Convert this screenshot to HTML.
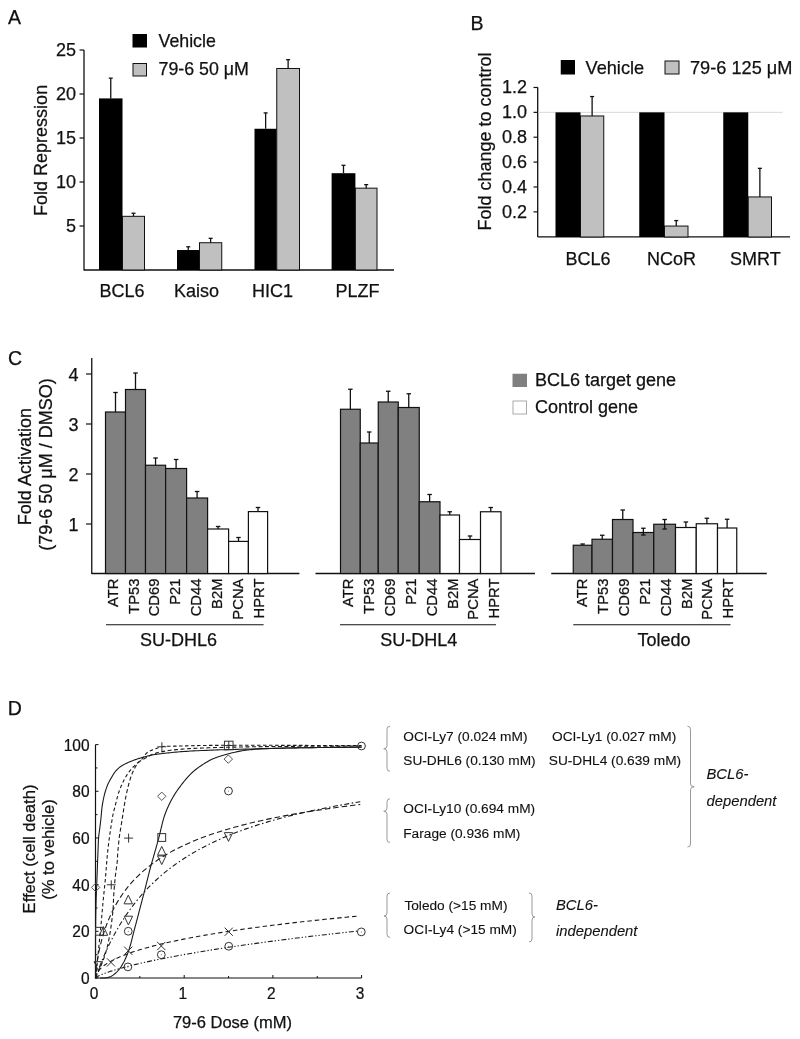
<!DOCTYPE html>
<html><head><meta charset="utf-8"><style>
html,body{margin:0;padding:0;background:#fff;}
svg{display:block;will-change:transform;font-family:"Liberation Sans", sans-serif;}
text{stroke:#111;stroke-width:0.25px;}
</style></head><body>
<svg width="800" height="1039" viewBox="0 0 800 1039">
<rect x="0" y="0" width="800" height="1039" fill="#fff"/>
<text x="8" y="23.75" text-anchor="start" style="font-size:19.5px;" fill="#111">A</text>
<line x1="84" y1="50" x2="84" y2="270.5" stroke="#111" stroke-width="1.3"/>
<line x1="84" y1="270" x2="394" y2="270" stroke="#111" stroke-width="1.3"/>
<line x1="79.5" y1="226.0" x2="84" y2="226.0" stroke="#111" stroke-width="1.2"/>
<text x="76" y="232.0" text-anchor="end" style="font-size:18px;" fill="#111">5</text>
<line x1="79.5" y1="182.0" x2="84" y2="182.0" stroke="#111" stroke-width="1.2"/>
<text x="76" y="188.0" text-anchor="end" style="font-size:18px;" fill="#111">10</text>
<line x1="79.5" y1="138.0" x2="84" y2="138.0" stroke="#111" stroke-width="1.2"/>
<text x="76" y="144.0" text-anchor="end" style="font-size:18px;" fill="#111">15</text>
<line x1="79.5" y1="94.0" x2="84" y2="94.0" stroke="#111" stroke-width="1.2"/>
<text x="76" y="100.0" text-anchor="end" style="font-size:18px;" fill="#111">20</text>
<line x1="79.5" y1="49.99999999999997" x2="84" y2="49.99999999999997" stroke="#111" stroke-width="1.2"/>
<text x="76" y="55.99999999999997" text-anchor="end" style="font-size:18px;" fill="#111">25</text>
<text x="46.8" y="150.4" text-anchor="middle" style="font-size:18px;" fill="#111" transform="rotate(-90 46.8 150.4)">Fold Repression</text>
<rect x="99" y="98.39999999999998" width="23.5" height="171.60000000000002" fill="#000"/>
<line x1="110.75" y1="98.39999999999998" x2="110.75" y2="78.15999999999997" stroke="#111" stroke-width="1.3"/>
<line x1="108.75" y1="78.15999999999997" x2="112.75" y2="78.15999999999997" stroke="#111" stroke-width="1.3"/>
<rect x="122.5" y="216.32" width="22.0" height="53.68000000000001" fill="#c0c0c0" stroke="#111" stroke-width="1"/>
<line x1="133.5" y1="216.32" x2="133.5" y2="213.24" stroke="#111" stroke-width="1.3"/>
<line x1="131.5" y1="213.24" x2="135.5" y2="213.24" stroke="#111" stroke-width="1.3"/>
<rect x="177" y="250.024" width="22.5" height="19.976" fill="#000"/>
<line x1="188.25" y1="250.024" x2="188.25" y2="246.768" stroke="#111" stroke-width="1.3"/>
<line x1="186.25" y1="246.768" x2="190.25" y2="246.768" stroke="#111" stroke-width="1.3"/>
<rect x="199.5" y="242.72" width="22.25" height="27.28" fill="#c0c0c0" stroke="#111" stroke-width="1"/>
<line x1="210.625" y1="242.72" x2="210.625" y2="238.32" stroke="#111" stroke-width="1.3"/>
<line x1="208.625" y1="238.32" x2="212.625" y2="238.32" stroke="#111" stroke-width="1.3"/>
<rect x="254.5" y="128.76" width="22.25" height="141.24" fill="#000"/>
<line x1="265.625" y1="128.76" x2="265.625" y2="112.91999999999999" stroke="#111" stroke-width="1.3"/>
<line x1="263.625" y1="112.91999999999999" x2="267.625" y2="112.91999999999999" stroke="#111" stroke-width="1.3"/>
<rect x="276.75" y="68.47999999999999" width="22.75" height="201.52" fill="#c0c0c0" stroke="#111" stroke-width="1"/>
<line x1="288.125" y1="68.47999999999999" x2="288.125" y2="59.68000000000001" stroke="#111" stroke-width="1.3"/>
<line x1="286.125" y1="59.68000000000001" x2="290.125" y2="59.68000000000001" stroke="#111" stroke-width="1.3"/>
<rect x="331.6" y="173.2" width="23.799999999999955" height="96.80000000000001" fill="#000"/>
<line x1="343.5" y1="173.2" x2="343.5" y2="165.27999999999997" stroke="#111" stroke-width="1.3"/>
<line x1="341.5" y1="165.27999999999997" x2="345.5" y2="165.27999999999997" stroke="#111" stroke-width="1.3"/>
<rect x="355.4" y="188.15999999999997" width="21.600000000000023" height="81.84000000000003" fill="#c0c0c0" stroke="#111" stroke-width="1"/>
<line x1="366.2" y1="188.15999999999997" x2="366.2" y2="184.64" stroke="#111" stroke-width="1.3"/>
<line x1="364.2" y1="184.64" x2="368.2" y2="184.64" stroke="#111" stroke-width="1.3"/>
<text x="122" y="297" text-anchor="middle" style="font-size:18px;" fill="#111">BCL6</text>
<text x="196.6" y="297" text-anchor="middle" style="font-size:18px;" fill="#111">Kaiso</text>
<text x="272.4" y="297" text-anchor="middle" style="font-size:18px;" fill="#111">HIC1</text>
<text x="357.5" y="297" text-anchor="middle" style="font-size:18px;" fill="#111">PLZF</text>
<rect x="132.5" y="34" width="14.5" height="13.5" fill="#000"/>
<rect x="133" y="63.5" width="13.5" height="12.5" fill="#c0c0c0" stroke="#111" stroke-width="1"/>
<text x="158.5" y="46.5" text-anchor="start" style="font-size:17.8px;" fill="#111">Vehicle</text>
<text x="158.5" y="74.6" text-anchor="start" style="font-size:17.8px;" fill="#111">79-6 50 μM</text>
<text x="470.5" y="30" text-anchor="start" style="font-size:19.5px;" fill="#111">B</text>
<line x1="537.7" y1="87.2" x2="537.7" y2="237" stroke="#111" stroke-width="1.3"/>
<line x1="537.7" y1="236.9" x2="790" y2="236.9" stroke="#111" stroke-width="1.3"/>
<line x1="538.5" y1="112.35" x2="782.5" y2="112.35" stroke="#d8d8d8" stroke-width="1"/>
<line x1="533.5" y1="211.87" x2="537.7" y2="211.87" stroke="#111" stroke-width="1.2"/>
<text x="527" y="217.87" text-anchor="end" style="font-size:18px;" fill="#111">0.2</text>
<line x1="533.5" y1="186.99" x2="537.7" y2="186.99" stroke="#111" stroke-width="1.2"/>
<text x="527" y="192.99" text-anchor="end" style="font-size:18px;" fill="#111">0.4</text>
<line x1="533.5" y1="162.11" x2="537.7" y2="162.11" stroke="#111" stroke-width="1.2"/>
<text x="527" y="168.11" text-anchor="end" style="font-size:18px;" fill="#111">0.6</text>
<line x1="533.5" y1="137.23" x2="537.7" y2="137.23" stroke="#111" stroke-width="1.2"/>
<text x="527" y="143.23" text-anchor="end" style="font-size:18px;" fill="#111">0.8</text>
<line x1="533.5" y1="112.35" x2="537.7" y2="112.35" stroke="#111" stroke-width="1.2"/>
<text x="527" y="118.35" text-anchor="end" style="font-size:18px;" fill="#111">1.0</text>
<line x1="533.5" y1="87.47" x2="537.7" y2="87.47" stroke="#111" stroke-width="1.2"/>
<text x="527" y="93.47" text-anchor="end" style="font-size:18px;" fill="#111">1.2</text>
<text x="490.8" y="141.45" text-anchor="middle" style="font-size:18px;" fill="#111" transform="rotate(-90 490.8 141.45)">Fold change to control</text>
<rect x="555.5" y="112.35" width="25.0" height="124.65" fill="#000"/>
<rect x="580.5" y="115.9576" width="23.25" height="121.0424" fill="#c0c0c0" stroke="#111" stroke-width="1"/>
<line x1="592.125" y1="115.9576" x2="592.125" y2="96.5512" stroke="#111" stroke-width="1.3"/>
<line x1="590.125" y1="96.5512" x2="594.125" y2="96.5512" stroke="#111" stroke-width="1.3"/>
<rect x="639.25" y="112.35" width="25.25" height="124.65" fill="#000"/>
<rect x="664.5" y="226.0516" width="23.5" height="10.948399999999992" fill="#c0c0c0" stroke="#111" stroke-width="1"/>
<line x1="676.25" y1="226.0516" x2="676.25" y2="220.578" stroke="#111" stroke-width="1.3"/>
<line x1="674.25" y1="220.578" x2="678.25" y2="220.578" stroke="#111" stroke-width="1.3"/>
<rect x="723.25" y="112.35" width="25.0" height="124.65" fill="#000"/>
<rect x="748.25" y="196.942" width="23.25" height="40.05799999999999" fill="#c0c0c0" stroke="#111" stroke-width="1"/>
<line x1="759.875" y1="196.942" x2="759.875" y2="168.32999999999998" stroke="#111" stroke-width="1.3"/>
<line x1="757.875" y1="168.32999999999998" x2="761.875" y2="168.32999999999998" stroke="#111" stroke-width="1.3"/>
<text x="588.1" y="265" text-anchor="middle" style="font-size:18px;" fill="#111">BCL6</text>
<text x="671.45" y="265" text-anchor="middle" style="font-size:18px;" fill="#111">NCoR</text>
<text x="755.45" y="265" text-anchor="middle" style="font-size:18px;" fill="#111">SMRT</text>
<rect x="560.75" y="60" width="14.25" height="14.5" fill="#000"/>
<rect x="665" y="61" width="14" height="13" fill="#c0c0c0" stroke="#111" stroke-width="1"/>
<text x="585.5" y="73.75" text-anchor="start" style="font-size:18.2px;" fill="#111">Vehicle</text>
<text x="690" y="73.75" text-anchor="start" style="font-size:18.2px;" fill="#111">79-6 125 μM</text>
<text x="8" y="364.5" text-anchor="start" style="font-size:19.5px;" fill="#111">C</text>
<line x1="91.75" y1="358" x2="91.75" y2="574" stroke="#111" stroke-width="1.3"/>
<line x1="86" y1="524" x2="91.75" y2="524" stroke="#111" stroke-width="1.2"/>
<text x="78.5" y="530.5" text-anchor="end" style="font-size:18px;" fill="#111">1</text>
<line x1="86" y1="474" x2="91.75" y2="474" stroke="#111" stroke-width="1.2"/>
<text x="78.5" y="480.5" text-anchor="end" style="font-size:18px;" fill="#111">2</text>
<line x1="86" y1="424" x2="91.75" y2="424" stroke="#111" stroke-width="1.2"/>
<text x="78.5" y="430.5" text-anchor="end" style="font-size:18px;" fill="#111">3</text>
<line x1="86" y1="374" x2="91.75" y2="374" stroke="#111" stroke-width="1.2"/>
<text x="78.5" y="380.5" text-anchor="end" style="font-size:18px;" fill="#111">4</text>
<text x="31" y="466.6" text-anchor="middle" style="font-size:18px;" fill="#111" transform="rotate(-90 31 466.6)">Fold Activation</text>
<text x="51.5" y="464.5" text-anchor="middle" style="font-size:18px;" fill="#111" transform="rotate(-90 51.5 464.5)">(79-6 50 μM / DMSO)</text>
<line x1="91.75" y1="573.5" x2="299.4" y2="573.5" stroke="#111" stroke-width="1.3"/>
<rect x="105.5" y="412.0" width="20.0" height="161.5" fill="#808080" stroke="#111" stroke-width="1.2"/>
<line x1="115.5" y1="412.0" x2="115.5" y2="392.5" stroke="#111" stroke-width="1.3"/>
<line x1="113.25" y1="392.5" x2="117.75" y2="392.5" stroke="#111" stroke-width="1.3"/>
<text x="117.7" y="578.5" text-anchor="end" style="font-size:14.8px;" fill="#111" transform="rotate(-90 117.7 578.5)">ATR</text>
<rect x="125.5" y="389.5" width="20.0" height="184.0" fill="#808080" stroke="#111" stroke-width="1.2"/>
<line x1="135.5" y1="389.5" x2="135.5" y2="373.0" stroke="#111" stroke-width="1.3"/>
<line x1="133.25" y1="373.0" x2="137.75" y2="373.0" stroke="#111" stroke-width="1.3"/>
<text x="138.58" y="578.5" text-anchor="end" style="font-size:14.8px;" fill="#111" transform="rotate(-90 138.58 578.5)">TP53</text>
<rect x="145.5" y="465.25" width="20.099999999999994" height="108.25" fill="#808080" stroke="#111" stroke-width="1.2"/>
<line x1="155.55" y1="465.25" x2="155.55" y2="458.0" stroke="#111" stroke-width="1.3"/>
<line x1="153.3" y1="458.0" x2="157.8" y2="458.0" stroke="#111" stroke-width="1.3"/>
<text x="159.46" y="578.5" text-anchor="end" style="font-size:14.8px;" fill="#111" transform="rotate(-90 159.46 578.5)">CD69</text>
<rect x="165.6" y="468.5" width="21.0" height="105.0" fill="#808080" stroke="#111" stroke-width="1.2"/>
<line x1="176.1" y1="468.5" x2="176.1" y2="459.5" stroke="#111" stroke-width="1.3"/>
<line x1="173.85" y1="459.5" x2="178.35" y2="459.5" stroke="#111" stroke-width="1.3"/>
<text x="180.34" y="578.5" text-anchor="end" style="font-size:14.8px;" fill="#111" transform="rotate(-90 180.34 578.5)">P21</text>
<rect x="186.6" y="498.0" width="21.0" height="75.5" fill="#808080" stroke="#111" stroke-width="1.2"/>
<line x1="197.1" y1="498.0" x2="197.1" y2="491.5" stroke="#111" stroke-width="1.3"/>
<line x1="194.85" y1="491.5" x2="199.35" y2="491.5" stroke="#111" stroke-width="1.3"/>
<text x="201.22" y="578.5" text-anchor="end" style="font-size:14.8px;" fill="#111" transform="rotate(-90 201.22 578.5)">CD44</text>
<rect x="207.6" y="529.0" width="21.0" height="44.5" fill="#ffffff" stroke="#111" stroke-width="1.2"/>
<line x1="218.1" y1="529.0" x2="218.1" y2="526.5" stroke="#111" stroke-width="1.3"/>
<line x1="215.85" y1="526.5" x2="220.35" y2="526.5" stroke="#111" stroke-width="1.3"/>
<text x="222.1" y="578.5" text-anchor="end" style="font-size:14.8px;" fill="#111" transform="rotate(-90 222.1 578.5)">B2M</text>
<rect x="228.6" y="541.4" width="19.80000000000001" height="32.10000000000002" fill="#ffffff" stroke="#111" stroke-width="1.2"/>
<line x1="238.5" y1="541.4" x2="238.5" y2="537.5" stroke="#111" stroke-width="1.3"/>
<line x1="236.25" y1="537.5" x2="240.75" y2="537.5" stroke="#111" stroke-width="1.3"/>
<text x="242.98000000000002" y="578.5" text-anchor="end" style="font-size:14.8px;" fill="#111" transform="rotate(-90 242.98000000000002 578.5)">PCNA</text>
<rect x="248.4" y="511.6" width="19.200000000000017" height="61.89999999999998" fill="#ffffff" stroke="#111" stroke-width="1.2"/>
<line x1="258.0" y1="511.6" x2="258.0" y2="507.5" stroke="#111" stroke-width="1.3"/>
<line x1="255.75" y1="507.5" x2="260.25" y2="507.5" stroke="#111" stroke-width="1.3"/>
<text x="263.86" y="578.5" text-anchor="end" style="font-size:14.8px;" fill="#111" transform="rotate(-90 263.86 578.5)">HPRT</text>
<line x1="106" y1="624.75" x2="263.6" y2="624.75" stroke="#111" stroke-width="1.2"/>
<text x="178.5" y="646" text-anchor="middle" style="font-size:18px;" fill="#111">SU-DHL6</text>
<line x1="315.5" y1="573.5" x2="535" y2="573.5" stroke="#111" stroke-width="1.3"/>
<rect x="340.5" y="409.25" width="19.75" height="164.25" fill="#808080" stroke="#111" stroke-width="1.2"/>
<line x1="350.375" y1="409.25" x2="350.375" y2="389.25" stroke="#111" stroke-width="1.3"/>
<line x1="348.125" y1="389.25" x2="352.625" y2="389.25" stroke="#111" stroke-width="1.3"/>
<text x="353.1" y="578.5" text-anchor="end" style="font-size:14.8px;" fill="#111" transform="rotate(-90 353.1 578.5)">ATR</text>
<rect x="360.25" y="443.0" width="18.0" height="130.5" fill="#808080" stroke="#111" stroke-width="1.2"/>
<line x1="369.25" y1="443.0" x2="369.25" y2="432.0" stroke="#111" stroke-width="1.3"/>
<line x1="367.0" y1="432.0" x2="371.5" y2="432.0" stroke="#111" stroke-width="1.3"/>
<text x="373.98" y="578.5" text-anchor="end" style="font-size:14.8px;" fill="#111" transform="rotate(-90 373.98 578.5)">TP53</text>
<rect x="378.25" y="402.0" width="20.0" height="171.5" fill="#808080" stroke="#111" stroke-width="1.2"/>
<line x1="388.25" y1="402.0" x2="388.25" y2="391.25" stroke="#111" stroke-width="1.3"/>
<line x1="386.0" y1="391.25" x2="390.5" y2="391.25" stroke="#111" stroke-width="1.3"/>
<text x="394.86" y="578.5" text-anchor="end" style="font-size:14.8px;" fill="#111" transform="rotate(-90 394.86 578.5)">CD69</text>
<rect x="398.25" y="407.5" width="21.0" height="166.0" fill="#808080" stroke="#111" stroke-width="1.2"/>
<line x1="408.75" y1="407.5" x2="408.75" y2="393.75" stroke="#111" stroke-width="1.3"/>
<line x1="406.5" y1="393.75" x2="411.0" y2="393.75" stroke="#111" stroke-width="1.3"/>
<text x="415.74" y="578.5" text-anchor="end" style="font-size:14.8px;" fill="#111" transform="rotate(-90 415.74 578.5)">P21</text>
<rect x="419.25" y="501.75" width="20.75" height="71.75" fill="#808080" stroke="#111" stroke-width="1.2"/>
<line x1="429.625" y1="501.75" x2="429.625" y2="494.5" stroke="#111" stroke-width="1.3"/>
<line x1="427.375" y1="494.5" x2="431.875" y2="494.5" stroke="#111" stroke-width="1.3"/>
<text x="436.62" y="578.5" text-anchor="end" style="font-size:14.8px;" fill="#111" transform="rotate(-90 436.62 578.5)">CD44</text>
<rect x="440" y="515.0" width="19.5" height="58.5" fill="#ffffff" stroke="#111" stroke-width="1.2"/>
<line x1="449.75" y1="515.0" x2="449.75" y2="511.75" stroke="#111" stroke-width="1.3"/>
<line x1="447.5" y1="511.75" x2="452.0" y2="511.75" stroke="#111" stroke-width="1.3"/>
<text x="457.5" y="578.5" text-anchor="end" style="font-size:14.8px;" fill="#111" transform="rotate(-90 457.5 578.5)">B2M</text>
<rect x="459.5" y="539.5" width="21.0" height="34.0" fill="#ffffff" stroke="#111" stroke-width="1.2"/>
<line x1="470.0" y1="539.5" x2="470.0" y2="536.0" stroke="#111" stroke-width="1.3"/>
<line x1="467.75" y1="536.0" x2="472.25" y2="536.0" stroke="#111" stroke-width="1.3"/>
<text x="478.38" y="578.5" text-anchor="end" style="font-size:14.8px;" fill="#111" transform="rotate(-90 478.38 578.5)">PCNA</text>
<rect x="480.5" y="511.75" width="20.5" height="61.75" fill="#ffffff" stroke="#111" stroke-width="1.2"/>
<line x1="490.75" y1="511.75" x2="490.75" y2="507.5" stroke="#111" stroke-width="1.3"/>
<line x1="488.5" y1="507.5" x2="493.0" y2="507.5" stroke="#111" stroke-width="1.3"/>
<text x="499.26" y="578.5" text-anchor="end" style="font-size:14.8px;" fill="#111" transform="rotate(-90 499.26 578.5)">HPRT</text>
<line x1="340" y1="624.75" x2="496" y2="624.75" stroke="#111" stroke-width="1.2"/>
<text x="418.75" y="646" text-anchor="middle" style="font-size:18px;" fill="#111">SU-DHL4</text>
<line x1="551.25" y1="573.5" x2="766.8" y2="573.5" stroke="#111" stroke-width="1.3"/>
<rect x="573.25" y="545.25" width="18.75" height="28.25" fill="#808080" stroke="#111" stroke-width="1.2"/>
<line x1="582.625" y1="545.25" x2="582.625" y2="544.0" stroke="#111" stroke-width="1.3"/>
<line x1="580.375" y1="544.0" x2="584.875" y2="544.0" stroke="#111" stroke-width="1.3"/>
<text x="587.1" y="578.5" text-anchor="end" style="font-size:14.8px;" fill="#111" transform="rotate(-90 587.1 578.5)">ATR</text>
<rect x="592" y="539.25" width="20.5" height="34.25" fill="#808080" stroke="#111" stroke-width="1.2"/>
<line x1="602.25" y1="539.25" x2="602.25" y2="535.25" stroke="#111" stroke-width="1.3"/>
<line x1="600.0" y1="535.25" x2="604.5" y2="535.25" stroke="#111" stroke-width="1.3"/>
<text x="607.98" y="578.5" text-anchor="end" style="font-size:14.8px;" fill="#111" transform="rotate(-90 607.98 578.5)">TP53</text>
<rect x="612.5" y="519.5" width="20.5" height="54.0" fill="#808080" stroke="#111" stroke-width="1.2"/>
<line x1="622.75" y1="519.5" x2="622.75" y2="510.0" stroke="#111" stroke-width="1.3"/>
<line x1="620.5" y1="510.0" x2="625.0" y2="510.0" stroke="#111" stroke-width="1.3"/>
<text x="628.86" y="578.5" text-anchor="end" style="font-size:14.8px;" fill="#111" transform="rotate(-90 628.86 578.5)">CD69</text>
<rect x="633" y="532.5" width="20.75" height="41.0" fill="#808080" stroke="#111" stroke-width="1.2"/>
<line x1="643.375" y1="535.0" x2="643.375" y2="528.25" stroke="#111" stroke-width="1.3"/>
<line x1="641.125" y1="528.25" x2="645.625" y2="528.25" stroke="#111" stroke-width="1.3"/>
<line x1="641.125" y1="535.0" x2="645.625" y2="535.0" stroke="#111" stroke-width="1.3"/>
<text x="649.74" y="578.5" text-anchor="end" style="font-size:14.8px;" fill="#111" transform="rotate(-90 649.74 578.5)">P21</text>
<rect x="653.75" y="524.25" width="21.75" height="49.25" fill="#808080" stroke="#111" stroke-width="1.2"/>
<line x1="664.625" y1="529.0" x2="664.625" y2="519.5" stroke="#111" stroke-width="1.3"/>
<line x1="662.375" y1="519.5" x2="666.875" y2="519.5" stroke="#111" stroke-width="1.3"/>
<line x1="662.375" y1="529.0" x2="666.875" y2="529.0" stroke="#111" stroke-width="1.3"/>
<text x="670.62" y="578.5" text-anchor="end" style="font-size:14.8px;" fill="#111" transform="rotate(-90 670.62 578.5)">CD44</text>
<rect x="675.5" y="527.5" width="20.75" height="46.0" fill="#ffffff" stroke="#111" stroke-width="1.2"/>
<line x1="685.875" y1="527.5" x2="685.875" y2="522.0" stroke="#111" stroke-width="1.3"/>
<line x1="683.625" y1="522.0" x2="688.125" y2="522.0" stroke="#111" stroke-width="1.3"/>
<text x="691.5" y="578.5" text-anchor="end" style="font-size:14.8px;" fill="#111" transform="rotate(-90 691.5 578.5)">B2M</text>
<rect x="696.25" y="523.75" width="21.25" height="49.75" fill="#ffffff" stroke="#111" stroke-width="1.2"/>
<line x1="706.875" y1="523.75" x2="706.875" y2="518.25" stroke="#111" stroke-width="1.3"/>
<line x1="704.625" y1="518.25" x2="709.125" y2="518.25" stroke="#111" stroke-width="1.3"/>
<text x="712.38" y="578.5" text-anchor="end" style="font-size:14.8px;" fill="#111" transform="rotate(-90 712.38 578.5)">PCNA</text>
<rect x="717.5" y="528.0" width="19.25" height="45.5" fill="#ffffff" stroke="#111" stroke-width="1.2"/>
<line x1="727.125" y1="528.0" x2="727.125" y2="519.25" stroke="#111" stroke-width="1.3"/>
<line x1="724.875" y1="519.25" x2="729.375" y2="519.25" stroke="#111" stroke-width="1.3"/>
<text x="733.26" y="578.5" text-anchor="end" style="font-size:14.8px;" fill="#111" transform="rotate(-90 733.26 578.5)">HPRT</text>
<line x1="573.25" y1="624.75" x2="730.5" y2="624.75" stroke="#111" stroke-width="1.2"/>
<text x="664" y="646" text-anchor="middle" style="font-size:18px;" fill="#111">Toledo</text>
<rect x="512.5" y="373.75" width="14.5" height="13.25" fill="#808080"/>
<rect x="513" y="401" width="13.5" height="13" fill="#ffffff" stroke="#aaa" stroke-width="1"/>
<text x="535" y="385.6" text-anchor="start" style="font-size:18px;" fill="#111">BCL6 target gene</text>
<text x="535" y="412.75" text-anchor="start" style="font-size:18px;" fill="#111">Control gene</text>
<text x="7.7" y="715" text-anchor="start" style="font-size:19.5px;" fill="#111">D</text>
<line x1="95.5" y1="744.6" x2="95.5" y2="978.5" stroke="#111" stroke-width="1.2"/>
<line x1="95.5" y1="978" x2="361.6" y2="978" stroke="#111" stroke-width="1.2"/>
<line x1="95.5" y1="978.0" x2="98.5" y2="978.0" stroke="#111" stroke-width="1"/>
<g transform="translate(89.5 983.9) scale(0.9 1)"><text x="0" y="0" text-anchor="end" style="font-size:17.2px" fill="#111">0</text></g>
<line x1="95.5" y1="954.66" x2="97.5" y2="954.66" stroke="#111" stroke-width="1"/>
<line x1="95.5" y1="931.32" x2="98.5" y2="931.32" stroke="#111" stroke-width="1"/>
<g transform="translate(89.5 937.22) scale(0.9 1)"><text x="0" y="0" text-anchor="end" style="font-size:17.2px" fill="#111">20</text></g>
<line x1="95.5" y1="907.98" x2="97.5" y2="907.98" stroke="#111" stroke-width="1"/>
<line x1="95.5" y1="884.64" x2="98.5" y2="884.64" stroke="#111" stroke-width="1"/>
<g transform="translate(89.5 890.54) scale(0.9 1)"><text x="0" y="0" text-anchor="end" style="font-size:17.2px" fill="#111">40</text></g>
<line x1="95.5" y1="861.3" x2="97.5" y2="861.3" stroke="#111" stroke-width="1"/>
<line x1="95.5" y1="837.96" x2="98.5" y2="837.96" stroke="#111" stroke-width="1"/>
<g transform="translate(89.5 843.86) scale(0.9 1)"><text x="0" y="0" text-anchor="end" style="font-size:17.2px" fill="#111">60</text></g>
<line x1="95.5" y1="814.62" x2="97.5" y2="814.62" stroke="#111" stroke-width="1"/>
<line x1="95.5" y1="791.28" x2="98.5" y2="791.28" stroke="#111" stroke-width="1"/>
<g transform="translate(89.5 797.18) scale(0.9 1)"><text x="0" y="0" text-anchor="end" style="font-size:17.2px" fill="#111">80</text></g>
<line x1="95.5" y1="767.94" x2="97.5" y2="767.94" stroke="#111" stroke-width="1"/>
<line x1="95.5" y1="744.6" x2="98.5" y2="744.6" stroke="#111" stroke-width="1"/>
<g transform="translate(89.5 750.5) scale(0.9 1)"><text x="0" y="0" text-anchor="end" style="font-size:17.2px" fill="#111">100</text></g>
<line x1="95.5" y1="978" x2="95.5" y2="975" stroke="#111" stroke-width="1"/>
<g transform="translate(94.0 998.8) scale(0.9 1)"><text x="0" y="0" text-anchor="middle" style="font-size:17.2px" fill="#111">0</text></g>
<line x1="139.85" y1="978" x2="139.85" y2="976" stroke="#111" stroke-width="1"/>
<line x1="184.2" y1="978" x2="184.2" y2="975" stroke="#111" stroke-width="1"/>
<g transform="translate(182.7 998.8) scale(0.9 1)"><text x="0" y="0" text-anchor="middle" style="font-size:17.2px" fill="#111">1</text></g>
<line x1="228.55" y1="978" x2="228.55" y2="976" stroke="#111" stroke-width="1"/>
<line x1="272.9" y1="978" x2="272.9" y2="975" stroke="#111" stroke-width="1"/>
<g transform="translate(271.4 998.8) scale(0.9 1)"><text x="0" y="0" text-anchor="middle" style="font-size:17.2px" fill="#111">2</text></g>
<line x1="317.25" y1="978" x2="317.25" y2="976" stroke="#111" stroke-width="1"/>
<line x1="361.6" y1="978" x2="361.6" y2="975" stroke="#111" stroke-width="1"/>
<g transform="translate(360.1 998.8) scale(0.9 1)"><text x="0" y="0" text-anchor="middle" style="font-size:17.2px" fill="#111">3</text></g>
<text x="232.5" y="1028" text-anchor="middle" style="font-size:16.5px;" fill="#111">79-6 Dose (mM)</text>
<text x="34.5" y="849" text-anchor="middle" style="font-size:16.6px;" fill="#111" transform="rotate(-90 34.5 849)">Effect (cell death)</text>
<text x="54" y="849.5" text-anchor="middle" style="font-size:16.6px;" fill="#111" transform="rotate(-90 54 849.5)">(% to vehicle)</text>
<path d="M95.50,978.00 L95.51,973.13 L95.51,968.15 L95.51,963.11 L95.51,958.06 L95.52,953.03 L95.52,948.08 L95.53,943.26 L95.55,938.61 L95.57,934.17 L95.60,930.00 L95.63,927.14 L95.66,924.38 L95.69,921.71 L95.73,919.11 L95.77,916.60 L95.81,914.15 L95.85,911.78 L95.90,909.46 L95.95,907.21 L96.00,905.00 L96.04,903.35 L96.09,901.76 L96.13,900.22 L96.18,898.73 L96.23,897.26 L96.28,895.82 L96.34,894.38 L96.39,892.94 L96.45,891.48 L96.50,890.00 L96.56,888.50 L96.61,887.00 L96.67,885.50 L96.74,884.00 L96.80,882.50 L96.86,881.00 L96.92,879.50 L96.98,878.00 L97.04,876.50 L97.10,875.00 L97.16,873.49 L97.21,871.97 L97.27,870.43 L97.33,868.90 L97.38,867.37 L97.43,865.84 L97.49,864.34 L97.54,862.86 L97.60,861.41 L97.65,860.00 L97.70,858.81 L97.74,857.65 L97.79,856.51 L97.83,855.38 L97.87,854.27 L97.92,853.17 L97.96,852.07 L98.01,850.97 L98.05,849.87 L98.10,848.75 L98.14,847.62 L98.18,846.48 L98.22,845.33 L98.26,844.19 L98.30,843.04 L98.34,841.91 L98.39,840.78 L98.45,839.67 L98.52,838.57 L98.60,837.50 L98.69,836.56 L98.79,835.64 L98.90,834.74 L99.01,833.84 L99.14,832.96 L99.26,832.08 L99.39,831.19 L99.51,830.31 L99.63,829.41 L99.75,828.50 L99.87,827.54 L99.98,826.59 L100.10,825.63 L100.22,824.66 L100.34,823.69 L100.45,822.72 L100.57,821.74 L100.68,820.75 L100.79,819.76 L100.90,818.75 L101.01,817.65 L101.12,816.52 L101.23,815.36 L101.33,814.20 L101.43,813.03 L101.53,811.87 L101.64,810.73 L101.75,809.61 L101.87,808.53 L102.00,807.50 L102.11,806.69 L102.22,805.90 L102.34,805.13 L102.45,804.39 L102.57,803.65 L102.70,802.92 L102.83,802.20 L102.96,801.47 L103.10,800.74 L103.25,800.00 L103.40,799.25 L103.55,798.50 L103.71,797.76 L103.87,797.01 L104.03,796.27 L104.21,795.52 L104.39,794.77 L104.58,794.02 L104.78,793.26 L105.00,792.50 L105.25,791.66 L105.51,790.80 L105.79,789.94 L106.07,789.06 L106.37,788.19 L106.68,787.32 L107.00,786.46 L107.32,785.62 L107.66,784.80 L108.00,784.00 L108.32,783.30 L108.65,782.62 L108.99,781.95 L109.34,781.29 L109.69,780.64 L110.05,780.00 L110.41,779.37 L110.77,778.74 L111.14,778.12 L111.50,777.50 L111.84,776.92 L112.17,776.35 L112.49,775.79 L112.82,775.22 L113.16,774.67 L113.50,774.12 L113.85,773.58 L114.22,773.05 L114.60,772.52 L115.00,772.00 L115.44,771.46 L115.89,770.93 L116.37,770.40 L116.85,769.88 L117.35,769.36 L117.86,768.86 L118.38,768.37 L118.91,767.89 L119.45,767.44 L120.00,767.00 L120.56,766.59 L121.13,766.19 L121.71,765.82 L122.30,765.46 L122.91,765.11 L123.52,764.78 L124.13,764.45 L124.75,764.13 L125.38,763.81 L126.00,763.50 L126.63,763.19 L127.27,762.89 L127.92,762.60 L128.58,762.32 L129.23,762.04 L129.89,761.78 L130.55,761.51 L131.20,761.26 L131.86,761.00 L132.50,760.75 L133.10,760.52 L133.70,760.29 L134.30,760.06 L134.89,759.84 L135.48,759.63 L136.07,759.42 L136.67,759.21 L137.27,759.01 L137.88,758.80 L138.50,758.60 L139.18,758.39 L139.86,758.18 L140.55,757.97 L141.25,757.76 L141.96,757.56 L142.67,757.36 L143.38,757.17 L144.09,756.98 L144.80,756.79 L145.50,756.60 L146.19,756.42 L146.86,756.24 L147.53,756.06 L148.20,755.88 L148.87,755.71 L149.55,755.54 L150.24,755.37 L150.96,755.21 L151.71,755.05 L152.50,754.90 L153.59,754.71 L154.72,754.52 L155.90,754.35 L157.11,754.18 L158.36,754.02 L159.64,753.86 L160.95,753.71 L162.28,753.56 L163.63,753.40 L165.00,753.25 L166.71,753.06 L168.46,752.87 L170.26,752.68 L172.09,752.50 L173.97,752.32 L175.87,752.14 L177.80,751.97 L179.76,751.81 L181.75,751.65 L183.75,751.50 L186.09,751.34 L188.47,751.19 L190.90,751.05 L193.35,750.92 L195.85,750.80 L198.37,750.69 L200.93,750.57 L203.51,750.47 L206.12,750.36 L208.75,750.25 L211.69,750.13 L214.61,750.02 L217.55,749.92 L220.51,749.82 L223.52,749.73 L226.60,749.63 L229.77,749.54 L233.05,749.45 L236.45,749.35 L240.00,749.25 L245.21,749.11 L250.75,748.95 L256.55,748.80 L262.56,748.64 L268.74,748.49 L275.01,748.34 L281.33,748.19 L287.64,748.05 L293.88,747.92 L300.00,747.80 L306.13,747.69 L312.27,747.60 L318.42,747.51 L324.58,747.43 L330.75,747.36 L336.92,747.29 L343.09,747.22 L349.27,747.15 L355.44,747.08 L361.60,747.00" fill="none" stroke="#1a1a1a" stroke-width="1.1"/>
<path d="M95.50,978.00 L95.70,976.20 L95.90,974.42 L96.10,972.63 L96.30,970.85 L96.51,969.06 L96.71,967.27 L96.91,965.47 L97.11,963.66 L97.30,961.84 L97.50,960.00 L97.70,958.05 L97.91,956.08 L98.11,954.10 L98.31,952.11 L98.51,950.11 L98.70,948.10 L98.90,946.09 L99.10,944.06 L99.30,942.03 L99.50,940.00 L99.71,937.86 L99.93,935.67 L100.15,933.45 L100.37,931.22 L100.59,928.99 L100.81,926.78 L101.02,924.61 L101.23,922.49 L101.42,920.45 L101.60,918.50 L101.73,917.03 L101.85,915.61 L101.97,914.24 L102.08,912.91 L102.19,911.60 L102.29,910.30 L102.40,909.00 L102.51,907.70 L102.63,906.36 L102.75,905.00 L102.89,903.52 L103.03,902.02 L103.18,900.49 L103.34,898.95 L103.49,897.41 L103.65,895.88 L103.80,894.37 L103.96,892.87 L104.11,891.42 L104.25,890.00 L104.37,888.82 L104.49,887.69 L104.60,886.60 L104.72,885.52 L104.83,884.45 L104.95,883.38 L105.06,882.29 L105.17,881.16 L105.29,879.98 L105.40,878.75 L105.55,877.00 L105.71,875.08 L105.88,873.02 L106.05,870.91 L106.21,868.78 L106.37,866.70 L106.52,864.72 L106.66,862.91 L106.79,861.32 L106.90,860.00 L106.94,859.51 L106.98,859.09 L107.01,858.70 L107.05,858.36 L107.08,858.03 L107.11,857.70 L107.14,857.38 L107.17,857.04 L107.21,856.66 L107.25,856.25 L107.31,855.61 L107.38,854.93 L107.45,854.21 L107.52,853.47 L107.59,852.70 L107.67,851.92 L107.75,851.13 L107.83,850.33 L107.91,849.54 L108.00,848.75 L108.10,847.88 L108.20,847.00 L108.31,846.10 L108.41,845.19 L108.53,844.28 L108.64,843.36 L108.75,842.45 L108.87,841.54 L108.98,840.64 L109.10,839.75 L109.21,838.91 L109.32,838.07 L109.44,837.24 L109.55,836.40 L109.67,835.58 L109.78,834.75 L109.90,833.93 L110.01,833.12 L110.13,832.31 L110.25,831.50 L110.36,830.74 L110.47,829.99 L110.58,829.24 L110.70,828.51 L110.81,827.77 L110.92,827.03 L111.04,826.29 L111.16,825.54 L111.28,824.78 L111.40,824.00 L111.54,823.13 L111.68,822.24 L111.81,821.33 L111.96,820.42 L112.10,819.50 L112.25,818.58 L112.40,817.66 L112.56,816.76 L112.73,815.87 L112.90,815.00 L113.07,814.22 L113.24,813.45 L113.42,812.69 L113.61,811.95 L113.80,811.20 L113.99,810.46 L114.18,809.73 L114.37,808.99 L114.56,808.25 L114.75,807.50 L114.93,806.75 L115.11,806.00 L115.29,805.26 L115.47,804.51 L115.65,803.77 L115.84,803.02 L116.02,802.27 L116.21,801.52 L116.40,800.76 L116.60,800.00 L116.81,799.20 L117.02,798.40 L117.23,797.59 L117.45,796.78 L117.67,795.96 L117.89,795.15 L118.13,794.34 L118.37,793.52 L118.63,792.71 L118.90,791.90 L119.19,791.06 L119.50,790.22 L119.81,789.38 L120.14,788.54 L120.47,787.70 L120.82,786.86 L121.17,786.03 L121.52,785.21 L121.89,784.40 L122.25,783.60 L122.60,782.86 L122.95,782.12 L123.31,781.40 L123.67,780.68 L124.04,779.96 L124.41,779.26 L124.80,778.56 L125.19,777.87 L125.59,777.18 L126.00,776.50 L126.41,775.83 L126.84,775.17 L127.27,774.51 L127.70,773.86 L128.15,773.22 L128.60,772.58 L129.07,771.95 L129.54,771.32 L130.01,770.71 L130.50,770.10 L130.99,769.51 L131.49,768.92 L132.01,768.34 L132.53,767.76 L133.06,767.20 L133.59,766.64 L134.13,766.09 L134.67,765.55 L135.21,765.02 L135.75,764.50 L136.26,764.03 L136.78,763.58 L137.30,763.14 L137.82,762.72 L138.35,762.30 L138.88,761.88 L139.41,761.45 L139.94,760.99 L140.47,760.51 L141.00,760.00 L141.63,759.32 L142.26,758.57 L142.88,757.77 L143.50,756.94 L144.12,756.10 L144.76,755.26 L145.41,754.46 L146.08,753.70 L146.77,753.01 L147.50,752.40 L148.19,751.92 L148.90,751.49 L149.64,751.10 L150.40,750.75 L151.16,750.43 L151.94,750.13 L152.71,749.84 L153.49,749.56 L154.25,749.28 L155.00,749.00 L155.68,748.73 L156.34,748.47 L156.98,748.21 L157.62,747.96 L158.27,747.73 L158.93,747.50 L159.61,747.29 L160.33,747.09 L161.09,746.91 L161.90,746.75 L163.18,746.56 L164.54,746.42 L165.99,746.32 L167.49,746.26 L169.06,746.22 L170.68,746.20 L172.35,746.18 L174.04,746.17 L175.76,746.14 L177.50,746.10 L179.74,746.03 L182.04,745.96 L184.41,745.89 L186.83,745.83 L189.32,745.76 L191.85,745.70 L194.44,745.65 L197.08,745.59 L199.77,745.54 L202.50,745.50 L205.90,745.45 L209.37,745.41 L212.92,745.38 L216.53,745.35 L220.23,745.32 L224.00,745.30 L227.87,745.28 L231.82,745.27 L235.86,745.26 L240.00,745.25 L245.43,745.24 L251.09,745.25 L256.94,745.26 L262.95,745.27 L269.07,745.29 L275.27,745.31 L281.50,745.34 L287.72,745.36 L293.90,745.38 L300.00,745.40 L306.13,745.42 L312.27,745.44 L318.42,745.46 L324.58,745.48 L330.75,745.50 L336.92,745.52 L343.09,745.54 L349.27,745.56 L355.44,745.58 L361.60,745.60" fill="none" stroke="#1a1a1a" stroke-width="1.1" stroke-dasharray="3.5,2.5"/>
<path d="M95.50,978.00 L95.95,977.00 L96.41,976.00 L96.86,975.00 L97.32,974.00 L97.78,973.01 L98.23,972.01 L98.68,971.01 L99.13,970.01 L99.57,969.00 L100.00,968.00 L100.42,967.01 L100.84,966.02 L101.26,965.04 L101.67,964.06 L102.07,963.07 L102.47,962.08 L102.87,961.08 L103.25,960.07 L103.63,959.04 L104.00,958.00 L104.39,956.86 L104.77,955.71 L105.14,954.55 L105.50,953.38 L105.85,952.20 L106.20,951.00 L106.54,949.78 L106.87,948.54 L107.19,947.28 L107.50,946.00 L107.85,944.50 L108.18,942.95 L108.51,941.37 L108.82,939.76 L109.13,938.13 L109.42,936.49 L109.70,934.84 L109.98,933.21 L110.24,931.59 L110.50,930.00 L110.74,928.46 L110.97,926.91 L111.20,925.34 L111.42,923.77 L111.63,922.21 L111.82,920.68 L112.01,919.18 L112.19,917.72 L112.35,916.33 L112.50,915.00 L112.60,914.06 L112.70,913.15 L112.79,912.28 L112.87,911.44 L112.94,910.62 L113.01,909.80 L113.07,908.99 L113.14,908.18 L113.19,907.35 L113.25,906.50 L113.30,905.62 L113.34,904.73 L113.38,903.85 L113.40,902.97 L113.43,902.08 L113.46,901.18 L113.48,900.28 L113.51,899.37 L113.55,898.44 L113.60,897.50 L113.66,896.43 L113.73,895.33 L113.80,894.22 L113.87,893.09 L113.95,891.95 L114.04,890.81 L114.12,889.66 L114.21,888.52 L114.31,887.38 L114.40,886.25 L114.50,885.13 L114.59,884.02 L114.69,882.92 L114.79,881.83 L114.90,880.72 L115.01,879.61 L115.12,878.49 L115.24,877.35 L115.37,876.19 L115.50,875.00 L115.67,873.56 L115.86,872.05 L116.07,870.50 L116.29,868.91 L116.51,867.31 L116.73,865.73 L116.93,864.19 L117.11,862.71 L117.27,861.30 L117.40,860.00 L117.47,859.15 L117.52,858.34 L117.55,857.56 L117.58,856.82 L117.60,856.09 L117.62,855.38 L117.64,854.67 L117.67,853.96 L117.70,853.24 L117.75,852.50 L117.81,851.75 L117.87,851.00 L117.95,850.25 L118.02,849.50 L118.10,848.75 L118.18,848.00 L118.26,847.25 L118.34,846.50 L118.42,845.75 L118.50,845.00 L118.57,844.25 L118.64,843.50 L118.71,842.75 L118.78,842.00 L118.85,841.25 L118.92,840.50 L119.00,839.75 L119.07,839.00 L119.16,838.25 L119.25,837.50 L119.35,836.75 L119.45,836.01 L119.56,835.27 L119.67,834.53 L119.79,833.79 L119.91,833.05 L120.03,832.30 L120.15,831.54 L120.27,830.78 L120.40,830.00 L120.54,829.13 L120.68,828.26 L120.83,827.37 L120.98,826.48 L121.14,825.57 L121.29,824.67 L121.45,823.75 L121.60,822.84 L121.75,821.92 L121.90,821.00 L122.05,820.04 L122.20,819.09 L122.35,818.13 L122.49,817.16 L122.64,816.19 L122.79,815.22 L122.94,814.24 L123.09,813.25 L123.24,812.25 L123.40,811.25 L123.57,810.15 L123.75,809.03 L123.93,807.90 L124.11,806.75 L124.30,805.60 L124.48,804.45 L124.67,803.31 L124.86,802.19 L125.06,801.08 L125.25,800.00 L125.43,799.04 L125.60,798.10 L125.78,797.16 L125.96,796.24 L126.14,795.33 L126.32,794.42 L126.51,793.52 L126.70,792.61 L126.90,791.71 L127.10,790.80 L127.31,789.89 L127.53,788.97 L127.75,788.05 L127.98,787.13 L128.21,786.21 L128.44,785.30 L128.68,784.40 L128.92,783.51 L129.16,782.65 L129.40,781.80 L129.61,781.08 L129.82,780.37 L130.03,779.67 L130.24,778.98 L130.45,778.30 L130.67,777.63 L130.89,776.97 L131.12,776.31 L131.36,775.65 L131.60,775.00 L131.84,774.38 L132.08,773.76 L132.33,773.16 L132.58,772.55 L132.83,771.95 L133.10,771.36 L133.37,770.77 L133.65,770.18 L133.94,769.59 L134.25,769.00 L134.58,768.38 L134.91,767.75 L135.26,767.11 L135.61,766.47 L135.98,765.84 L136.35,765.22 L136.74,764.62 L137.15,764.05 L137.57,763.51 L138.00,763.00 L138.40,762.58 L138.82,762.19 L139.24,761.82 L139.68,761.48 L140.12,761.15 L140.58,760.83 L141.05,760.52 L141.52,760.21 L142.01,759.91 L142.50,759.60 L143.06,759.27 L143.65,758.95 L144.26,758.64 L144.88,758.34 L145.51,758.04 L146.14,757.75 L146.76,757.46 L147.36,757.18 L147.95,756.89 L148.50,756.60 L148.92,756.36 L149.32,756.12 L149.68,755.87 L150.04,755.63 L150.39,755.40 L150.75,755.16 L151.14,754.93 L151.55,754.70 L152.00,754.47 L152.50,754.25 L153.44,753.89 L154.49,753.54 L155.63,753.19 L156.84,752.86 L158.12,752.54 L159.45,752.22 L160.82,751.92 L162.21,751.63 L163.61,751.36 L165.00,751.10 L166.71,750.81 L168.50,750.54 L170.33,750.30 L172.21,750.07 L174.12,749.86 L176.06,749.67 L178.00,749.49 L179.93,749.32 L181.86,749.16 L183.75,749.00 L185.59,748.85 L187.39,748.73 L189.17,748.61 L190.94,748.51 L192.72,748.42 L194.53,748.33 L196.40,748.25 L198.34,748.17 L200.36,748.09 L202.50,748.00 L205.69,747.88 L209.04,747.76 L212.53,747.65 L216.15,747.55 L219.90,747.45 L223.75,747.35 L227.70,747.26 L231.73,747.17 L235.84,747.08 L240.00,747.00 L245.43,746.90 L251.09,746.81 L256.94,746.73 L262.95,746.66 L269.07,746.59 L275.27,746.52 L281.50,746.46 L287.72,746.40 L293.90,746.35 L300.00,746.30 L306.13,746.25 L312.27,746.21 L318.42,746.18 L324.58,746.15 L330.75,746.12 L336.92,746.10 L343.09,746.08 L349.27,746.05 L355.44,746.03 L361.60,746.00" fill="none" stroke="#1a1a1a" stroke-width="1.1" stroke-dasharray="4,2.5"/>
<path d="M100.00,978.00 L100.65,977.98 L101.31,977.98 L101.98,977.98 L102.64,977.99 L103.30,977.99 L103.96,977.98 L104.61,977.96 L105.25,977.92 L105.88,977.85 L106.50,977.75 L107.06,977.64 L107.60,977.51 L108.13,977.38 L108.66,977.22 L109.18,977.05 L109.70,976.87 L110.21,976.66 L110.72,976.43 L111.23,976.18 L111.75,975.90 L112.36,975.54 L112.98,975.14 L113.60,974.71 L114.22,974.24 L114.83,973.75 L115.44,973.24 L116.04,972.70 L116.63,972.15 L117.20,971.58 L117.75,971.00 L118.33,970.35 L118.90,969.67 L119.46,968.96 L120.00,968.23 L120.52,967.48 L121.04,966.71 L121.54,965.93 L122.04,965.13 L122.52,964.32 L123.00,963.50 L123.51,962.59 L124.00,961.66 L124.48,960.69 L124.95,959.71 L125.41,958.72 L125.86,957.72 L126.29,956.72 L126.71,955.72 L127.11,954.73 L127.50,953.75 L127.85,952.84 L128.19,951.94 L128.51,951.03 L128.82,950.12 L129.12,949.22 L129.42,948.32 L129.70,947.42 L129.97,946.53 L130.24,945.64 L130.50,944.75 L130.74,943.91 L130.97,943.08 L131.18,942.26 L131.39,941.44 L131.59,940.62 L131.79,939.80 L131.99,938.98 L132.19,938.15 L132.39,937.33 L132.60,936.50 L132.82,935.66 L133.03,934.81 L133.25,933.97 L133.47,933.12 L133.69,932.27 L133.91,931.42 L134.13,930.57 L134.35,929.72 L134.57,928.86 L134.80,928.00 L135.03,927.11 L135.27,926.22 L135.51,925.32 L135.75,924.42 L135.99,923.52 L136.24,922.62 L136.48,921.72 L136.72,920.81 L136.96,919.91 L137.20,919.00 L137.44,918.08 L137.68,917.17 L137.92,916.25 L138.16,915.33 L138.40,914.41 L138.64,913.49 L138.88,912.56 L139.12,911.64 L139.36,910.72 L139.60,909.80 L139.84,908.88 L140.08,907.96 L140.32,907.04 L140.56,906.12 L140.80,905.20 L141.04,904.28 L141.28,903.36 L141.52,902.44 L141.76,901.52 L142.00,900.60 L142.24,899.69 L142.48,898.79 L142.71,897.90 L142.95,897.01 L143.19,896.11 L143.43,895.22 L143.67,894.31 L143.91,893.39 L144.15,892.45 L144.40,891.50 L144.68,890.41 L144.97,889.29 L145.25,888.15 L145.54,887.00 L145.84,885.83 L146.13,884.67 L146.42,883.49 L146.72,882.32 L147.01,881.16 L147.30,880.00 L147.59,878.85 L147.87,877.71 L148.15,876.58 L148.43,875.44 L148.71,874.30 L149.00,873.16 L149.29,872.01 L149.58,870.86 L149.89,869.69 L150.20,868.50 L150.55,867.20 L150.91,865.89 L151.28,864.58 L151.65,863.25 L152.03,861.92 L152.41,860.57 L152.81,859.21 L153.20,857.82 L153.60,856.42 L154.00,855.00 L154.46,853.37 L154.93,851.72 L155.40,850.04 L155.88,848.35 L156.37,846.63 L156.86,844.90 L157.36,843.13 L157.85,841.35 L158.35,839.54 L158.85,837.70 L159.41,835.54 L159.96,833.29 L160.50,830.99 L161.05,828.64 L161.60,826.28 L162.17,823.93 L162.76,821.60 L163.38,819.32 L164.04,817.11 L164.75,815.00 L165.40,813.21 L166.08,811.46 L166.78,809.74 L167.49,808.06 L168.24,806.40 L169.00,804.78 L169.78,803.18 L170.58,801.60 L171.41,800.04 L172.25,798.50 L173.07,797.06 L173.90,795.65 L174.75,794.27 L175.62,792.90 L176.51,791.56 L177.42,790.23 L178.35,788.91 L179.29,787.60 L180.26,786.30 L181.25,785.00 L182.28,783.67 L183.33,782.33 L184.40,781.00 L185.49,779.68 L186.60,778.38 L187.73,777.09 L188.88,775.83 L190.06,774.60 L191.27,773.40 L192.50,772.25 L193.76,771.14 L195.08,770.05 L196.45,768.97 L197.83,767.93 L199.24,766.92 L200.64,765.94 L202.03,765.01 L203.40,764.12 L204.73,763.28 L206.00,762.50 L206.93,761.94 L207.80,761.43 L208.64,760.95 L209.45,760.50 L210.27,760.07 L211.10,759.66 L211.97,759.25 L212.90,758.85 L213.90,758.43 L215.00,758.00 L216.98,757.27 L219.21,756.52 L221.62,755.75 L224.18,754.98 L226.84,754.22 L229.55,753.50 L232.27,752.80 L234.95,752.17 L237.54,751.59 L240.00,751.10 L242.05,750.73 L244.01,750.43 L245.92,750.16 L247.80,749.94 L249.68,749.75 L251.59,749.59 L253.55,749.44 L255.59,749.29 L257.73,749.15 L260.00,749.00 L263.40,748.79 L266.98,748.62 L270.71,748.47 L274.59,748.34 L278.60,748.23 L282.72,748.13 L286.93,748.05 L291.23,747.97 L295.59,747.88 L300.00,747.80 L305.62,747.70 L311.47,747.62 L317.51,747.55 L323.69,747.49 L329.97,747.44 L336.32,747.39 L342.70,747.35 L349.07,747.30 L355.38,747.26 L361.60,747.20" fill="none" stroke="#1a1a1a" stroke-width="1.1"/>
<path d="M95.50,978.00 L95.54,976.71 L95.55,976.67 L95.55,976.63 L95.55,976.59 L95.55,976.54 L95.56,976.50 L95.56,976.45 L95.56,976.40 L95.56,976.35 L95.57,976.30 L95.57,976.24 L95.57,976.19 L95.57,976.13 L95.58,976.07 L95.58,976.01 L95.59,975.95 L95.59,975.88 L95.59,975.82 L95.60,975.75 L95.60,975.68 L95.61,975.60 L95.61,975.53 L95.62,975.45 L95.62,975.37 L95.63,975.29 L95.63,975.20 L95.64,975.12 L95.64,975.03 L95.65,974.93 L95.66,974.84 L95.66,974.74 L95.67,974.63 L95.68,974.53 L95.69,974.42 L95.69,974.31 L95.70,974.19 L95.71,974.07 L95.72,973.95 L95.73,973.82 L95.74,973.69 L95.75,973.56 L95.76,973.42 L95.78,973.28 L95.79,973.13 L95.80,972.98 L95.81,972.82 L95.83,972.66 L95.84,972.50 L95.86,972.33 L95.87,972.15 L95.89,971.97 L95.91,971.78 L95.93,971.59 L95.94,971.39 L95.96,971.19 L95.98,970.98 L96.01,970.76 L96.03,970.54 L96.05,970.31 L96.08,970.08 L96.10,969.83 L96.13,969.58 L96.16,969.32 L96.19,969.06 L96.22,968.79 L96.25,968.51 L96.28,968.22 L96.32,967.92 L96.35,967.61 L96.39,967.30 L96.43,966.97 L96.47,966.64 L96.51,966.30 L96.56,965.94 L96.61,965.58 L96.66,965.21 L96.71,964.82 L96.76,964.43 L96.82,964.02 L96.88,963.61 L96.94,963.18 L97.00,962.74 L97.07,962.28 L97.14,961.82 L97.21,961.34 L97.29,960.85 L97.36,960.35 L97.45,959.83 L97.53,959.30 L97.62,958.75 L97.72,958.19 L97.82,957.62 L97.92,957.03 L98.03,956.42 L98.14,955.80 L98.26,955.16 L98.38,954.51 L98.51,953.84 L98.64,953.16 L98.78,952.45 L98.93,951.73 L99.08,950.99 L99.24,950.24 L99.40,949.46 L99.58,948.67 L99.76,947.86 L99.95,947.02 L100.15,946.17 L100.35,945.30 L100.57,944.41 L100.79,943.50 L101.03,942.57 L101.27,941.62 L101.53,940.65 L101.80,939.66 L102.08,938.64 L102.37,937.61 L102.68,936.55 L102.99,935.48 L103.33,934.38 L103.67,933.26 L104.04,932.11 L104.42,930.95 L104.81,929.76 L105.23,928.55 L105.66,927.32 L106.11,926.07 L106.58,924.79 L107.07,923.50 L107.59,922.18 L108.13,920.84 L108.69,919.48 L109.27,918.09 L109.89,916.69 L110.52,915.26 L111.19,913.82 L111.89,912.35 L112.62,910.86 L113.38,909.36 L114.17,907.83 L115.00,906.28 L115.87,904.72 L116.77,903.14 L117.72,901.54 L118.71,899.92 L119.74,898.28 L120.81,896.63 L121.94,894.97 L123.11,893.29 L124.34,891.59 L125.62,889.88 L126.96,888.16 L128.36,886.42 L129.82,884.67 L131.34,882.91 L132.93,881.15 L134.60,879.37 L136.34,877.58 L138.15,875.79 L140.04,873.98 L142.02,872.18 L144.09,870.36 L146.25,868.55 L148.50,866.72 L150.86,864.90 L153.32,863.08 L155.89,861.25 L158.57,859.42 L161.37,857.60 L164.30,855.77 L167.36,853.95 L170.55,852.14 L173.88,850.32 L177.37,848.52 L181.00,846.72 L184.80,844.92 L188.77,843.13 L192.92,841.36 L197.24,839.59 L201.77,837.83 L206.49,836.08 L211.42,834.35 L216.57,832.63 L221.95,830.92 L227.57,829.22 L233.43,827.54 L239.56,825.87 L245.96,824.22 L252.65,822.59 L259.63,820.97 L266.92,819.37 L274.54,817.79 L282.49,816.23 L290.80,814.69 L299.48,813.16 L308.54,811.65 L318.01,810.17 L327.90,808.70 L338.22,807.26 L349.01,805.83 L360.27,804.43" fill="none" stroke="#1a1a1a" stroke-width="1.1" stroke-dasharray="5.5,3"/>
<path d="M95.50,978.00 L95.54,977.86 L95.55,977.86 L95.55,977.85 L95.55,977.84 L95.55,977.84 L95.56,977.83 L95.56,977.82 L95.56,977.81 L95.56,977.80 L95.57,977.80 L95.57,977.79 L95.57,977.78 L95.57,977.77 L95.58,977.76 L95.58,977.75 L95.59,977.74 L95.59,977.73 L95.59,977.71 L95.60,977.70 L95.60,977.69 L95.61,977.67 L95.61,977.66 L95.62,977.65 L95.62,977.63 L95.63,977.61 L95.63,977.60 L95.64,977.58 L95.64,977.56 L95.65,977.54 L95.66,977.52 L95.66,977.50 L95.67,977.48 L95.68,977.46 L95.69,977.43 L95.69,977.41 L95.70,977.38 L95.71,977.36 L95.72,977.33 L95.73,977.30 L95.74,977.27 L95.75,977.24 L95.76,977.20 L95.78,977.17 L95.79,977.13 L95.80,977.09 L95.81,977.05 L95.83,977.01 L95.84,976.97 L95.86,976.92 L95.87,976.88 L95.89,976.83 L95.91,976.78 L95.93,976.73 L95.94,976.67 L95.96,976.61 L95.98,976.55 L96.01,976.49 L96.03,976.42 L96.05,976.35 L96.08,976.28 L96.10,976.21 L96.13,976.13 L96.16,976.05 L96.19,975.97 L96.22,975.88 L96.25,975.79 L96.28,975.69 L96.32,975.59 L96.35,975.49 L96.39,975.38 L96.43,975.26 L96.47,975.15 L96.51,975.02 L96.56,974.89 L96.61,974.76 L96.66,974.62 L96.71,974.48 L96.76,974.32 L96.82,974.17 L96.88,974.00 L96.94,973.83 L97.00,973.65 L97.07,973.46 L97.14,973.27 L97.21,973.07 L97.29,972.86 L97.36,972.64 L97.45,972.41 L97.53,972.17 L97.62,971.92 L97.72,971.66 L97.82,971.39 L97.92,971.11 L98.03,970.82 L98.14,970.52 L98.26,970.20 L98.38,969.87 L98.51,969.53 L98.64,969.18 L98.78,968.80 L98.93,968.42 L99.08,968.02 L99.24,967.60 L99.40,967.17 L99.58,966.72 L99.76,966.25 L99.95,965.76 L100.15,965.26 L100.35,964.73 L100.57,964.19 L100.79,963.62 L101.03,963.03 L101.27,962.42 L101.53,961.79 L101.80,961.13 L102.08,960.45 L102.37,959.74 L102.68,959.01 L102.99,958.25 L103.33,957.46 L103.67,956.65 L104.04,955.80 L104.42,954.93 L104.81,954.02 L105.23,953.09 L105.66,952.12 L106.11,951.12 L106.58,950.08 L107.07,949.01 L107.59,947.91 L108.13,946.77 L108.69,945.60 L109.27,944.38 L109.89,943.13 L110.52,941.85 L111.19,940.52 L111.89,939.16 L112.62,937.75 L113.38,936.31 L114.17,934.82 L115.00,933.29 L115.87,931.73 L116.77,930.12 L117.72,928.47 L118.71,926.78 L119.74,925.05 L120.81,923.28 L121.94,921.47 L123.11,919.62 L124.34,917.72 L125.62,915.79 L126.96,913.82 L128.36,911.81 L129.82,909.76 L131.34,907.68 L132.93,905.56 L134.60,903.41 L136.34,901.22 L138.15,899.00 L140.04,896.75 L142.02,894.47 L144.09,892.16 L146.25,889.82 L148.50,887.47 L150.86,885.08 L153.32,882.68 L155.89,880.26 L158.57,877.82 L161.37,875.37 L164.30,872.90 L167.36,870.43 L170.55,867.94 L173.88,865.45 L177.37,862.96 L181.00,860.46 L184.80,857.97 L188.77,855.47 L192.92,852.99 L197.24,850.51 L201.77,848.04 L206.49,845.58 L211.42,843.14 L216.57,840.71 L221.95,838.30 L227.57,835.91 L233.43,833.55 L239.56,831.20 L245.96,828.89 L252.65,826.60 L259.63,824.34 L266.92,822.11 L274.54,819.91 L282.49,817.74 L290.80,815.61 L299.48,813.52 L308.54,811.46 L318.01,809.44 L327.90,807.45 L338.22,805.51 L349.01,803.60 L360.27,801.73" fill="none" stroke="#1a1a1a" stroke-width="1.1" stroke-dasharray="5,2.5,1.5,2.5"/>
<path d="M95.50,978.00 L95.54,977.25 L95.55,977.23 L95.55,977.21 L95.55,977.19 L95.55,977.17 L95.56,977.15 L95.56,977.13 L95.56,977.11 L95.56,977.09 L95.57,977.07 L95.57,977.05 L95.57,977.03 L95.57,977.00 L95.58,976.98 L95.58,976.96 L95.59,976.93 L95.59,976.91 L95.59,976.88 L95.60,976.85 L95.60,976.83 L95.61,976.80 L95.61,976.77 L95.62,976.74 L95.62,976.71 L95.63,976.68 L95.63,976.65 L95.64,976.62 L95.64,976.58 L95.65,976.55 L95.66,976.52 L95.66,976.48 L95.67,976.44 L95.68,976.41 L95.69,976.37 L95.69,976.33 L95.70,976.29 L95.71,976.25 L95.72,976.21 L95.73,976.17 L95.74,976.12 L95.75,976.08 L95.76,976.03 L95.77,975.99 L95.79,975.94 L95.80,975.89 L95.81,975.84 L95.83,975.79 L95.84,975.74 L95.86,975.68 L95.87,975.63 L95.89,975.57 L95.91,975.52 L95.92,975.46 L95.94,975.40 L95.96,975.34 L95.98,975.27 L96.00,975.21 L96.03,975.14 L96.05,975.08 L96.07,975.01 L96.10,974.94 L96.13,974.87 L96.15,974.79 L96.18,974.72 L96.21,974.64 L96.25,974.56 L96.28,974.48 L96.31,974.40 L96.35,974.31 L96.39,974.23 L96.43,974.14 L96.47,974.05 L96.51,973.95 L96.56,973.86 L96.60,973.76 L96.65,973.66 L96.70,973.56 L96.76,973.46 L96.81,973.35 L96.87,973.24 L96.93,973.13 L96.99,973.02 L97.06,972.90 L97.13,972.78 L97.20,972.66 L97.28,972.54 L97.36,972.41 L97.44,972.28 L97.52,972.15 L97.61,972.01 L97.71,971.87 L97.80,971.73 L97.91,971.58 L98.01,971.43 L98.13,971.28 L98.24,971.13 L98.36,970.97 L98.49,970.80 L98.62,970.64 L98.76,970.47 L98.91,970.29 L99.06,970.12 L99.22,969.94 L99.38,969.75 L99.55,969.56 L99.73,969.37 L99.92,969.17 L100.12,968.97 L100.32,968.76 L100.54,968.55 L100.76,968.33 L100.99,968.11 L101.24,967.88 L101.49,967.65 L101.76,967.42 L102.03,967.18 L102.32,966.93 L102.63,966.68 L102.94,966.42 L103.27,966.16 L103.62,965.89 L103.98,965.62 L104.35,965.34 L104.75,965.06 L105.16,964.76 L105.59,964.47 L106.03,964.16 L106.50,963.85 L106.99,963.54 L107.50,963.21 L108.03,962.88 L108.59,962.55 L109.17,962.20 L109.77,961.85 L110.41,961.50 L111.07,961.13 L111.76,960.76 L112.48,960.38 L113.23,959.99 L114.02,959.59 L114.84,959.19 L115.70,958.78 L116.60,958.36 L117.53,957.93 L118.51,957.49 L119.53,957.05 L120.60,956.59 L121.71,956.13 L122.87,955.66 L124.09,955.18 L125.36,954.69 L126.68,954.19 L128.06,953.68 L129.51,953.16 L131.02,952.63 L132.59,952.10 L134.24,951.55 L135.96,950.99 L137.75,950.42 L139.63,949.84 L141.59,949.25 L143.63,948.66 L145.77,948.05 L148.00,947.42 L150.33,946.79 L152.76,946.15 L155.30,945.50 L157.95,944.83 L160.72,944.15 L163.62,943.47 L166.64,942.77 L169.80,942.06 L173.09,941.33 L176.54,940.60 L180.13,939.85 L183.89,939.09 L187.81,938.32 L191.90,937.54 L196.18,936.75 L200.65,935.94 L205.31,935.12 L210.19,934.29 L215.28,933.45 L220.59,932.59 L226.14,931.72 L231.94,930.84 L237.99,929.95 L244.31,929.04 L250.92,928.12 L257.81,927.19 L265.01,926.25 L272.53,925.29 L280.39,924.33 L288.59,923.35 L297.16,922.35 L306.11,921.35 L315.45,920.33 L325.21,919.30 L335.40,918.26 L346.05,917.20 L357.16,916.14" fill="none" stroke="#1a1a1a" stroke-width="1.1" stroke-dasharray="4.5,3"/>
<path d="M95.50,978.00 L95.54,977.91 L95.55,977.91 L95.55,977.91 L95.55,977.90 L95.55,977.90 L95.56,977.90 L95.56,977.89 L95.56,977.89 L95.56,977.89 L95.57,977.88 L95.57,977.88 L95.57,977.88 L95.57,977.87 L95.58,977.87 L95.58,977.86 L95.59,977.86 L95.59,977.85 L95.59,977.85 L95.60,977.84 L95.60,977.84 L95.61,977.83 L95.61,977.83 L95.62,977.82 L95.62,977.82 L95.63,977.81 L95.63,977.80 L95.64,977.80 L95.64,977.79 L95.65,977.78 L95.66,977.78 L95.66,977.77 L95.67,977.76 L95.68,977.75 L95.69,977.75 L95.69,977.74 L95.70,977.73 L95.71,977.72 L95.72,977.71 L95.73,977.70 L95.74,977.69 L95.75,977.68 L95.76,977.67 L95.77,977.66 L95.79,977.65 L95.80,977.64 L95.81,977.62 L95.83,977.61 L95.84,977.60 L95.86,977.58 L95.87,977.57 L95.89,977.56 L95.91,977.54 L95.92,977.53 L95.94,977.51 L95.96,977.50 L95.98,977.48 L96.00,977.46 L96.03,977.44 L96.05,977.43 L96.07,977.41 L96.10,977.39 L96.13,977.37 L96.15,977.35 L96.18,977.32 L96.21,977.30 L96.25,977.28 L96.28,977.26 L96.31,977.23 L96.35,977.21 L96.39,977.18 L96.43,977.15 L96.47,977.12 L96.51,977.10 L96.56,977.07 L96.60,977.03 L96.65,977.00 L96.70,976.97 L96.76,976.94 L96.81,976.90 L96.87,976.86 L96.93,976.83 L96.99,976.79 L97.06,976.75 L97.13,976.71 L97.20,976.66 L97.28,976.62 L97.36,976.58 L97.44,976.53 L97.52,976.48 L97.61,976.43 L97.71,976.38 L97.80,976.33 L97.91,976.27 L98.01,976.21 L98.13,976.16 L98.24,976.09 L98.36,976.03 L98.49,975.97 L98.62,975.90 L98.76,975.83 L98.91,975.76 L99.06,975.69 L99.22,975.61 L99.38,975.53 L99.55,975.45 L99.73,975.37 L99.92,975.28 L100.12,975.19 L100.32,975.10 L100.54,975.01 L100.76,974.91 L100.99,974.81 L101.24,974.71 L101.49,974.60 L101.76,974.49 L102.03,974.37 L102.32,974.25 L102.63,974.13 L102.94,974.01 L103.27,973.88 L103.62,973.74 L103.98,973.60 L104.35,973.46 L104.75,973.32 L105.16,973.16 L105.59,973.01 L106.03,972.85 L106.50,972.68 L106.99,972.51 L107.50,972.33 L108.03,972.15 L108.59,971.96 L109.17,971.76 L109.77,971.56 L110.41,971.35 L111.07,971.14 L111.76,970.92 L112.48,970.69 L113.23,970.46 L114.02,970.22 L114.84,969.97 L115.70,969.71 L116.60,969.45 L117.53,969.18 L118.51,968.90 L119.53,968.61 L120.60,968.31 L121.71,968.00 L122.87,967.69 L124.09,967.36 L125.36,967.03 L126.68,966.68 L128.06,966.32 L129.51,965.96 L131.02,965.58 L132.59,965.19 L134.24,964.79 L135.96,964.38 L137.75,963.96 L139.63,963.52 L141.59,963.07 L143.63,962.61 L145.77,962.14 L148.00,961.65 L150.33,961.15 L152.76,960.63 L155.30,960.10 L157.95,959.55 L160.72,958.99 L163.62,958.42 L166.64,957.82 L169.80,957.22 L173.09,956.59 L176.54,955.95 L180.13,955.29 L183.89,954.61 L187.81,953.92 L191.90,953.21 L196.18,952.48 L200.65,951.73 L205.31,950.96 L210.19,950.17 L215.28,949.36 L220.59,948.53 L226.14,947.68 L231.94,946.82 L237.99,945.93 L244.31,945.01 L250.92,944.08 L257.81,943.13 L265.01,942.15 L272.53,941.15 L280.39,940.13 L288.59,939.08 L297.16,938.02 L306.11,936.93 L315.45,935.81 L325.21,934.68 L335.40,933.51 L346.05,932.33 L357.16,931.12" fill="none" stroke="#1a1a1a" stroke-width="1.1" stroke-dasharray="5,2,1.3,2,1.3,2"/>
<path d="M95.6,883.1999999999999 L99.8,887.4 L95.6,891.6 L91.39999999999999,887.4 Z" fill="none" stroke="#555" stroke-width="1"/>
<path d="M161.75,792.05 L165.95,796.25 L161.75,800.45 L157.55,796.25 Z" fill="none" stroke="#555" stroke-width="1"/>
<path d="M228.3,754.9 L232.5,759.1 L228.3,763.3000000000001 L224.10000000000002,759.1 Z" fill="none" stroke="#555" stroke-width="1"/>
<path d="M106.75,884.8 L115.75,884.8 M111.25,880.3 L111.25,889.3" fill="none" stroke="#333" stroke-width="1"/>
<path d="M124.1,838.1 L133.1,838.1 M128.6,833.6 L128.6,842.6" fill="none" stroke="#333" stroke-width="1"/>
<path d="M157.4,746.75 L166.4,746.75 M161.9,742.25 L161.9,751.25" fill="none" stroke="#333" stroke-width="1"/>
<path d="M224.25,745.5 L233.25,745.5 M228.75,741.0 L228.75,750.0" fill="none" stroke="#333" stroke-width="1"/>
<rect x="95.5" y="927.35" width="7.8" height="7.8" fill="none" stroke="#333" stroke-width="1"/>
<rect x="157.85" y="833.6" width="7.8" height="7.8" fill="none" stroke="#333" stroke-width="1"/>
<rect x="224.45" y="741.2" width="8.6" height="8.6" fill="none" stroke="#333" stroke-width="1"/>
<circle cx="128.25" cy="931.25" r="3.9" fill="none" stroke="#333" stroke-width="1"/><circle cx="128.25" cy="931.25" r="0.5" fill="#444"/>
<circle cx="228.5" cy="791" r="3.9" fill="none" stroke="#333" stroke-width="1"/><circle cx="228.5" cy="791" r="0.5" fill="#444"/>
<circle cx="361.5" cy="746" r="3.9" fill="none" stroke="#333" stroke-width="1"/><circle cx="361.5" cy="746" r="0.5" fill="#444"/>
<path d="M103.5,926.65 L107.7,935.35 L99.3,935.35 Z" fill="none" stroke="#333" stroke-width="1"/>
<path d="M128.25,895.15 L132.45,903.85 L124.05,903.85 Z" fill="none" stroke="#333" stroke-width="1"/>
<path d="M161.75,846.4 L165.95,855.1 L157.55,855.1 Z" fill="none" stroke="#333" stroke-width="1"/>
<path d="M98.25,970.35 L102.45,961.65 L94.05,961.65 Z" fill="none" stroke="#333" stroke-width="1"/>
<path d="M128.4,924.9 L132.6,916.1999999999999 L124.2,916.1999999999999 Z" fill="none" stroke="#333" stroke-width="1"/>
<path d="M161.75,864.6 L165.95,855.9 L157.55,855.9 Z" fill="none" stroke="#333" stroke-width="1"/>
<path d="M228.5,841.35 L232.7,832.65 L224.3,832.65 Z" fill="none" stroke="#333" stroke-width="1"/>
<path d="M106.9,958.3 L115.1,966.5 M106.9,966.5 L115.1,958.3" fill="none" stroke="#333" stroke-width="1"/>
<path d="M124.15,946.65 L132.35,954.85 M124.15,954.85 L132.35,946.65" fill="none" stroke="#333" stroke-width="1"/>
<path d="M157.20000000000002,941.9 L165.4,950.1 M157.20000000000002,950.1 L165.4,941.9" fill="none" stroke="#333" stroke-width="1"/>
<path d="M224.65,927.65 L232.85,935.85 M224.65,935.85 L232.85,927.65" fill="none" stroke="#333" stroke-width="1"/>
<circle cx="127.9" cy="966.9" r="3.9" fill="none" stroke="#333" stroke-width="1"/><circle cx="127.9" cy="966.9" r="0.5" fill="#444"/>
<circle cx="161.3" cy="954.7" r="3.9" fill="none" stroke="#333" stroke-width="1"/><circle cx="161.3" cy="954.7" r="0.5" fill="#444"/>
<circle cx="228.75" cy="946.25" r="3.9" fill="none" stroke="#333" stroke-width="1"/><circle cx="228.75" cy="946.25" r="0.5" fill="#444"/>
<circle cx="361.3" cy="931.9" r="3.9" fill="none" stroke="#333" stroke-width="1"/><circle cx="361.3" cy="931.9" r="0.5" fill="#444"/>
<text x="403.25" y="740.5" text-anchor="start" style="font-size:13.7px;stroke-width:0.12px;" fill="#111">OCI-Ly7 (0.024 mM)</text>
<text x="403.25" y="764.5" text-anchor="start" style="font-size:13.7px;stroke-width:0.12px;" fill="#111">SU-DHL6 (0.130 mM)</text>
<text x="552" y="740.5" text-anchor="start" style="font-size:13.7px;stroke-width:0.12px;" fill="#111">OCI-Ly1 (0.027 mM)</text>
<text x="548.75" y="764.5" text-anchor="start" style="font-size:13.7px;stroke-width:0.12px;" fill="#111">SU-DHL4 (0.639 mM)</text>
<text x="403.25" y="813" text-anchor="start" style="font-size:13.7px;stroke-width:0.12px;" fill="#111">OCI-Ly10 (0.694 mM)</text>
<text x="403.25" y="837.5" text-anchor="start" style="font-size:13.7px;stroke-width:0.12px;" fill="#111">Farage (0.936 mM)</text>
<text x="404.4" y="910" text-anchor="start" style="font-size:13.7px;stroke-width:0.12px;" fill="#111">Toledo (&gt;15 mM)</text>
<text x="403.6" y="934" text-anchor="start" style="font-size:13.7px;stroke-width:0.12px;" fill="#111">OCI-Ly4 (&gt;15 mM)</text>
<text x="706.5" y="779.25" text-anchor="start" style="font-size:14.8px;stroke-width:0.1px;font-style:italic;" fill="#111">BCL6-</text>
<text x="706.5" y="806.25" text-anchor="start" style="font-size:14.8px;stroke-width:0.1px;font-style:italic;" fill="#111">dependent</text>
<text x="556" y="910" text-anchor="start" style="font-size:14.8px;stroke-width:0.1px;font-style:italic;" fill="#111">BCL6-</text>
<text x="556" y="936" text-anchor="start" style="font-size:14.8px;stroke-width:0.1px;font-style:italic;" fill="#111">independent</text>
<path d="M390,726.25 Q387,726.25 387,729.25 L387,745.75 Q387,748.75 383.75,748.75 Q387,748.75 387,751.75 L387,768.25 Q387,771.25 390,771.25" fill="none" stroke="#999" stroke-width="1"/>
<path d="M390,798.75 Q387,798.75 387,801.75 L387,808.25 Q387,811.25 383.75,811.25 Q387,811.25 387,814.25 L387,839.5 Q387,842.5 390,842.5" fill="none" stroke="#999" stroke-width="1"/>
<path d="M390,893 Q387,893 387,896 L387,913 Q387,916 384,916 Q387,916 387,919 L387,934.4 Q387,937.4 390,937.4" fill="none" stroke="#999" stroke-width="1"/>
<path d="M687.5,726.25 Q690.5,726.25 690.5,729.25 L690.5,783.75 Q690.5,786.75 694.25,786.75 Q690.5,786.75 690.5,789.75 L690.5,844 Q690.5,847 687.5,847" fill="none" stroke="#999" stroke-width="1"/>
<path d="M529,893 Q532,893 532,896 L532,914 Q532,917 535,917 Q532,917 532,920 L532,939 Q532,942 529,942" fill="none" stroke="#999" stroke-width="1"/>
</svg></body></html>
